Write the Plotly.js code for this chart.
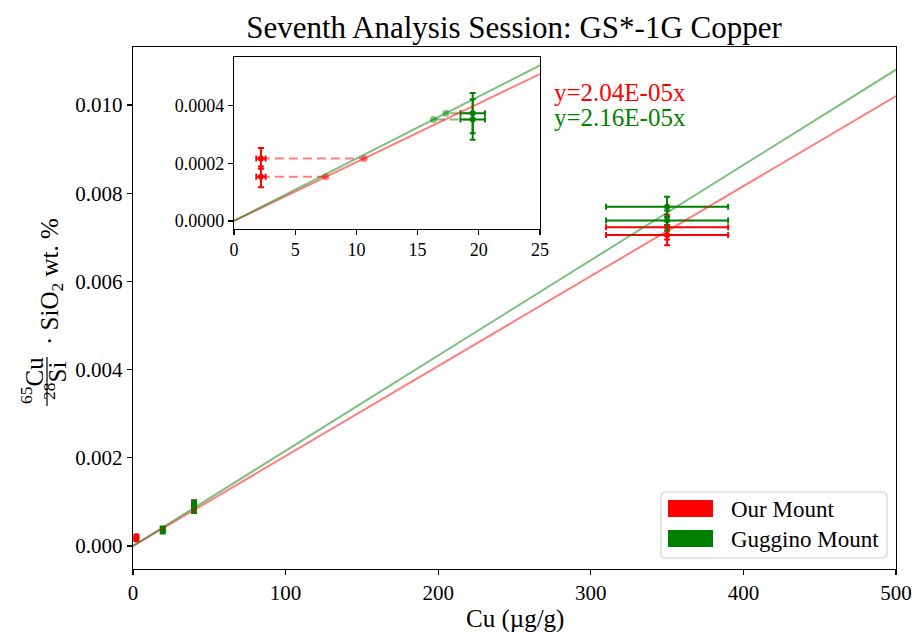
<!DOCTYPE html>
<html><head><meta charset="utf-8">
<script src="https://cdn.plot.ly/plotly-3.0.1.min.js"></script>
<style>html,body{margin:0;padding:0;background:#fff;} #chart{width:912px;height:632px;}</style>
</head><body><div id="chart"></div>
<script>
// ---- data ----
const seriesNames = ['Our Mount', 'Guggino Mount'];

const ourX    = [2.2, 2.2, 40, 40, 350, 350];
const ourY    = [0.000217, 0.000153, 0.00098, 0.00092, 0.00723, 0.00705];
const ourXerr = [0.38, 0.38, 1, 1, 40, 40];
const ourYerr = [0.000036, 0.000036, 0.00005, 0.00005, 0.00028, 0.00023];

const gugX    = [19.5, 19.5, 40, 40, 350, 350];
const gugY    = [0.000374, 0.000352, 0.00095, 0.00083, 0.00769, 0.00738];
const gugXerr = [1.0, 1.0, 1, 1, 40, 40];
const gugYerr = [0.00007, 0.00007, 0.00008, 0.00008, 0.00023, 0.00023];

const slopes = [2.04e-5, 2.16e-5];
const fitX = [0, 500];
const insetMaxX = 25;

const mainXTicks = [0, 100, 200, 300, 400, 500];
const mainYTicks = [0, 0.002, 0.004, 0.006, 0.008, 0.010];
const insetXTicks = [0, 5, 10, 15, 20, 25];
const insetYTicks = [0, 0.0002, 0.0004];

// ---- styles ----
const solid = ['#ff0000', '#008000'];
const faded = ['rgba(255,0,0,0.5)', 'rgba(0,128,0,0.5)'];
const FONT = 'Liberation Serif, Times New Roman, serif';

const series = [
  {x: ourX, y: ourY, ex: ourXerr, ey: ourYerr},
  {x: gugX, y: gugY, ex: gugXerr, ey: gugYerr}
];

const traces = [];
function pointTrace(s, i, xa, ya) {
  return {
    type: 'scatter', mode: 'markers', x: s.x, y: s.y, xaxis: xa, yaxis: ya,
    name: seriesNames[i], showlegend: false,
    marker: {color: solid[i], size: 6},
    error_x: {type: 'data', array: s.ex, color: solid[i], thickness: 2, width: 3},
    error_y: {type: 'data', array: s.ey, color: solid[i], thickness: 2, width: 3},
    cliponaxis: true
  };
}
series.forEach((s, i) => traces.push(pointTrace(s, i, 'x', 'y')));
series.forEach((s, i) => traces.push(pointTrace(s, i, 'x2', 'y2')));

// inverse-predicted points in inset
series.forEach((s, i) => {
  const dx = [], dy = [], px = [], py = [];
  s.x.forEach((xv, k) => {
    if (xv <= insetMaxX) {
      const xi = s.y[k] / slopes[i];
      dx.push(xv, xi, null); dy.push(s.y[k], s.y[k], null);
      px.push(xi); py.push(s.y[k]);
    }
  });
  traces.push({type: 'scatter', mode: 'lines', x: dx, y: dy, xaxis: 'x2', yaxis: 'y2',
    showlegend: false, line: {color: faded[i], width: 2, dash: '9px,5px'}});
  traces.push({type: 'scatter', mode: 'markers', x: px, y: py, xaxis: 'x2', yaxis: 'y2',
    showlegend: false, marker: {color: faded[i], size: 7}});
});

// fit lines
slopes.forEach((m, i) => {
  const fy = fitX.map(v => v * m);
  traces.push({type: 'scatter', mode: 'lines', x: fitX, y: fy, xaxis: 'x', yaxis: 'y',
    showlegend: false, line: {color: faded[i], width: 2}});
  traces.push({type: 'scatter', mode: 'lines', x: fitX, y: fy, xaxis: 'x2', yaxis: 'y2',
    showlegend: false, line: {color: faded[i], width: 2}});
});

function axisBase(extra) {
  return Object.assign({
    showline: true, mirror: true, linecolor: '#000', linewidth: 1.2,
    ticks: 'outside', ticklen: 5, tickwidth: 1.2, tickcolor: '#000',
    showgrid: false, zeroline: false, tickmode: 'array',
    tickfont: {family: FONT, size: 21, color: '#000'}
  }, extra);
}

function fmtSlope(m) {
  const e = Math.floor(Math.log10(m));
  const mant = (m / Math.pow(10, e)).toFixed(2);
  const sign = e < 0 ? '-' : '+';
  const ae = String(Math.abs(e)).padStart(2, '0');
  return 'y=' + mant + 'E' + sign + ae + 'x';
}

const W = 912, H = 632, ML = 133, MR = 16, MT = 47, MB = 63;
const PW = W - ML - MR, PH = H - MT - MB;
const px2x = p => (p - ML) / PW;
const px2y = p => (H - MB - p) / PH;

const annotations = [
  {xref: 'paper', yref: 'paper', x: px2x(515), y: px2y(619), xanchor: 'center', yanchor: 'middle',
   text: 'Cu (µg/g)', showarrow: false, font: {family: FONT, size: 25, color: '#000'}},
  // y label pieces
  {xref: 'paper', yref: 'paper', x: px2x(51), y: px2y(282), xanchor: 'center', yanchor: 'middle',
   textangle: -90, text: '· SiO<sub>2</sub> wt. %', showarrow: false, font: {family: FONT, size: 25, color: '#000'}},
  {xref: 'paper', yref: 'paper', x: px2x(32), y: px2y(381), xanchor: 'center', yanchor: 'middle',
   textangle: -90, text: '<sup>65</sup>Cu', showarrow: false, font: {family: FONT, size: 25, color: '#000'}},
  {xref: 'paper', yref: 'paper', x: px2x(55), y: px2y(381), xanchor: 'center', yanchor: 'middle',
   textangle: -90, text: '<sup>28</sup>Si', showarrow: false, font: {family: FONT, size: 25, color: '#000'}},
  // slope labels
  {xref: 'paper', yref: 'paper', x: px2x(552), y: px2y(93), xanchor: 'left', yanchor: 'middle',
   text: fmtSlope(slopes[0]), showarrow: false, font: {family: FONT, size: 25, color: solid[0]}},
  {xref: 'paper', yref: 'paper', x: px2x(552), y: px2y(117), xanchor: 'left', yanchor: 'middle',
   text: fmtSlope(slopes[1]), showarrow: false, font: {family: FONT, size: 25, color: solid[1]}},
  // legend labels
  {xref: 'paper', yref: 'paper', x: px2x(729), y: px2y(509), xanchor: 'left', yanchor: 'middle',
   text: seriesNames[0], showarrow: false, font: {family: FONT, size: 23, color: '#000'}},
  {xref: 'paper', yref: 'paper', x: px2x(729), y: px2y(539), xanchor: 'left', yanchor: 'middle',
   text: seriesNames[1], showarrow: false, font: {family: FONT, size: 23, color: '#000'}}
];

function roundRect(x0, y0, x1, y1, r) {
  const X0 = px2x(x0), X1 = px2x(x1), Y0 = px2y(y0), Y1 = px2y(y1);
  const rx = r / PW, ry = r / PH;
  return `M${X0 + rx},${Y0} L${X1 - rx},${Y0} Q${X1},${Y0} ${X1},${Y0 - ry} L${X1},${Y1 + ry} Q${X1},${Y1} ${X1 - rx},${Y1} L${X0 + rx},${Y1} Q${X0},${Y1} ${X0},${Y1 + ry} L${X0},${Y0 - ry} Q${X0},${Y0} ${X0 + rx},${Y0} Z`;
}

const shapes = [
  {type: 'line', xref: 'paper', yref: 'paper', x0: px2x(47), x1: px2x(47), y0: px2y(357), y1: px2y(406),
   line: {color: '#000', width: 1.2}},
  {type: 'path', xref: 'paper', yref: 'paper', path: roundRect(661, 492, 887, 558, 4),
   fillcolor: 'rgba(255,255,255,0.8)', line: {color: '#cccccc', width: 1}},
  {type: 'rect', xref: 'paper', yref: 'paper', x0: px2x(668), x1: px2x(713), y0: px2y(500), y1: px2y(517),
   fillcolor: solid[0], line: {width: 0}},
  {type: 'rect', xref: 'paper', yref: 'paper', x0: px2x(668), x1: px2x(713), y0: px2y(530), y1: px2y(547),
   fillcolor: solid[1], line: {width: 0}}
];

const layout = {
  width: W, height: H,
  margin: {l: ML, r: MR, t: MT, b: MB, pad: 0},
  paper_bgcolor: '#fff', plot_bgcolor: '#fff',
  showlegend: false,
  title: {text: 'Seventh Analysis Session: GS*-1G Copper', x: 514 / W, xref: 'container', xanchor: 'center',
          y: 1 - 27 / H, yref: 'container', yanchor: 'middle',
          font: {family: FONT, size: 31, color: '#000'}},
  xaxis: axisBase({domain: [0, 1], range: [0, 500], anchor: 'y',
    tickvals: mainXTicks, ticktext: mainXTicks.map(String)}),
  yaxis: axisBase({domain: [0, 1], range: [-0.000522, 0.011315], anchor: 'x',
    tickvals: mainYTicks, ticktext: mainYTicks.map(v => v.toFixed(3))}),
  xaxis2: axisBase({domain: [px2x(234), px2x(540)], range: [0, insetMaxX], anchor: 'y2',
    tickvals: insetXTicks, ticktext: insetXTicks.map(String), tickfont: {family: FONT, size: 18, color: '#000'}}),
  yaxis2: axisBase({domain: [px2y(228.5), px2y(57)], range: [-0.0000264, 0.000569], anchor: 'x2',
    tickvals: insetYTicks, ticktext: insetYTicks.map(v => v.toFixed(4)), tickfont: {family: FONT, size: 18, color: '#000'}}),
  annotations: annotations,
  shapes: shapes
};

Plotly.newPlot('chart', traces, layout, {displayModeBar: false, staticPlot: true});
</script>
</body></html>
